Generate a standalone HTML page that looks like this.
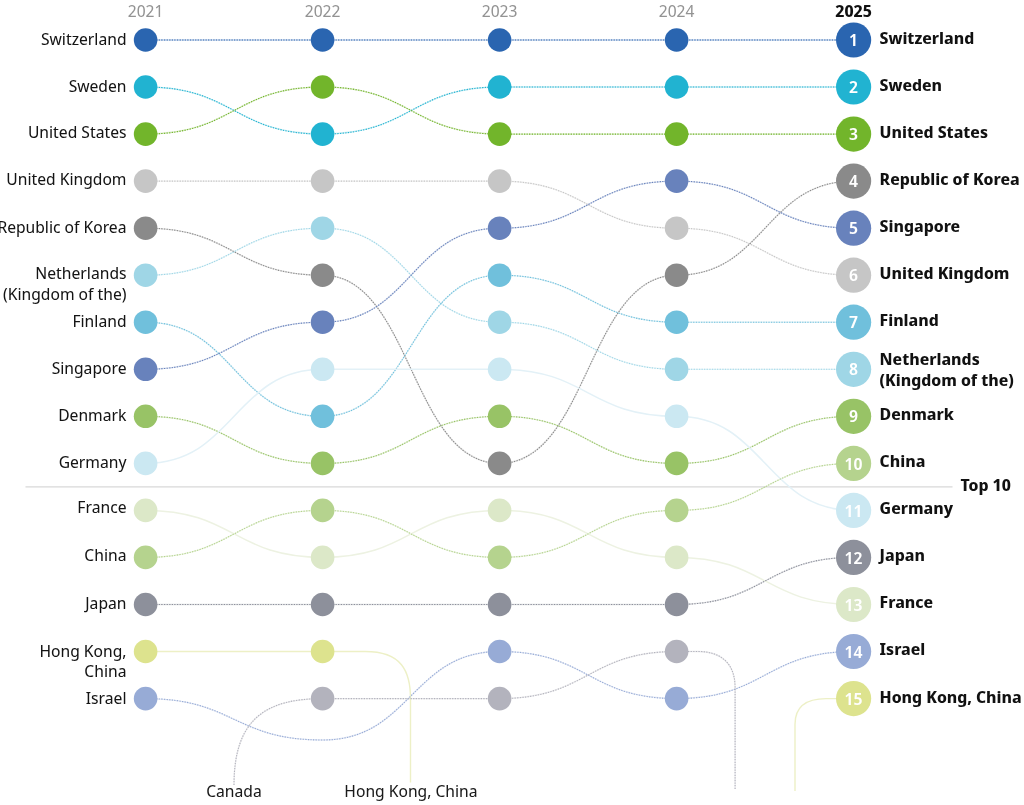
<!DOCTYPE html>
<html><head><meta charset="utf-8"><title>Ranking 2021-2025</title>
<style>html,body{margin:0;padding:0;background:#fff;}body{width:1024px;height:805px;overflow:hidden;}svg{display:block;}</style>
</head><body>
<svg width="1024" height="805" viewBox="0 0 1024 805">
<line x1="25.5" y1="486.8" x2="952.5" y2="486.8" stroke="#d8d8d8" stroke-width="1.2"/>
<g fill="none" stroke-width="1.3" stroke-opacity="0.25">
<path d="M145.6,40.0 C234.1,40.0 234.1,40.0 322.6,40.0 C411.1,40.0 411.1,40.0 499.6,40.0 C588.1,40.0 588.1,40.0 676.6,40.0 C765.1,40.0 765.1,40.0 853.6,40.0" stroke="#2a65b0"/>
<path d="M145.6,87.0 C234.1,87.0 234.1,134.1 322.6,134.1 C411.1,134.1 411.1,87.0 499.6,87.0 C588.1,87.0 588.1,87.0 676.6,87.0 C765.1,87.0 765.1,87.0 853.6,87.0" stroke="#21b3d1"/>
<path d="M145.6,134.1 C234.1,134.1 234.1,87.0 322.6,87.0 C411.1,87.0 411.1,134.1 499.6,134.1 C588.1,134.1 588.1,134.1 676.6,134.1 C765.1,134.1 765.1,134.1 853.6,134.1" stroke="#72b52b"/>
<path d="M145.6,181.1 C234.1,181.1 234.1,181.1 322.6,181.1 C411.1,181.1 411.1,181.1 499.6,181.1 C588.1,181.1 588.1,228.2 676.6,228.2 C765.1,228.2 765.1,275.2 853.6,275.2" stroke="#c6c6c6"/>
<path d="M145.6,228.2 C234.1,228.2 234.1,275.2 322.6,275.2 C411.1,275.2 411.1,463.4 499.6,463.4 C588.1,463.4 588.1,275.2 676.6,275.2 C765.1,275.2 765.1,181.1 853.6,181.1" stroke="#8a8a8a"/>
<path d="M145.6,275.2 C234.1,275.2 234.1,228.2 322.6,228.2 C411.1,228.2 411.1,322.2 499.6,322.2 C588.1,322.2 588.1,369.3 676.6,369.3 C765.1,369.3 765.1,369.3 853.6,369.3" stroke="#9fd6e6"/>
<path d="M145.6,322.2 C234.1,322.2 234.1,416.3 322.6,416.3 C411.1,416.3 411.1,275.2 499.6,275.2 C588.1,275.2 588.1,322.2 676.6,322.2 C765.1,322.2 765.1,322.2 853.6,322.2" stroke="#70c0dc"/>
<path d="M145.6,369.3 C234.1,369.3 234.1,322.2 322.6,322.2 C411.1,322.2 411.1,228.2 499.6,228.2 C588.1,228.2 588.1,181.1 676.6,181.1 C765.1,181.1 765.1,228.2 853.6,228.2" stroke="#6882bc"/>
<path d="M145.6,416.3 C234.1,416.3 234.1,463.4 322.6,463.4 C411.1,463.4 411.1,416.3 499.6,416.3 C588.1,416.3 588.1,463.4 676.6,463.4 C765.1,463.4 765.1,416.3 853.6,416.3" stroke="#98c366"/>
<path d="M145.6,557.4 C234.1,557.4 234.1,510.4 322.6,510.4 C411.1,510.4 411.1,557.4 499.6,557.4 C588.1,557.4 588.1,510.4 676.6,510.4 C765.1,510.4 765.1,463.4 853.6,463.4" stroke="#b5d38e"/>
<path d="M145.6,604.5 C234.1,604.5 234.1,604.5 322.6,604.5 C411.1,604.5 411.1,604.5 499.6,604.5 C588.1,604.5 588.1,604.5 676.6,604.5 C765.1,604.5 765.1,557.4 853.6,557.4" stroke="#8d909b"/>
<path d="M145.6,698.6 C234.1,698.6 234.1,740.0 322.6,740.0 C411.1,740.0 411.1,651.5 499.6,651.5 C588.1,651.5 588.1,698.6 676.6,698.6 C765.1,698.6 765.1,651.5 853.6,651.5" stroke="#97abd6"/>
<path d="M234,785 C234,718.7 266.2,698.6 322.6,698.6 H499.6 C588.1,698.6 588.1,651.5 676.6,651.5 H698.3 C720.6,651.5 735.1,663.1 735.1,687.5 V789" stroke="#b3b3bd"/>
</g>
<g fill="none" stroke-width="1.1" stroke-dasharray="1.3 1.3">
<path d="M145.6,40.0 C234.1,40.0 234.1,40.0 322.6,40.0 C411.1,40.0 411.1,40.0 499.6,40.0 C588.1,40.0 588.1,40.0 676.6,40.0 C765.1,40.0 765.1,40.0 853.6,40.0" stroke="#2a65b0"/>
<path d="M145.6,87.0 C234.1,87.0 234.1,134.1 322.6,134.1 C411.1,134.1 411.1,87.0 499.6,87.0 C588.1,87.0 588.1,87.0 676.6,87.0 C765.1,87.0 765.1,87.0 853.6,87.0" stroke="#21b3d1"/>
<path d="M145.6,134.1 C234.1,134.1 234.1,87.0 322.6,87.0 C411.1,87.0 411.1,134.1 499.6,134.1 C588.1,134.1 588.1,134.1 676.6,134.1 C765.1,134.1 765.1,134.1 853.6,134.1" stroke="#72b52b"/>
<path d="M145.6,181.1 C234.1,181.1 234.1,181.1 322.6,181.1 C411.1,181.1 411.1,181.1 499.6,181.1 C588.1,181.1 588.1,228.2 676.6,228.2 C765.1,228.2 765.1,275.2 853.6,275.2" stroke="#c6c6c6"/>
<path d="M145.6,228.2 C234.1,228.2 234.1,275.2 322.6,275.2 C411.1,275.2 411.1,463.4 499.6,463.4 C588.1,463.4 588.1,275.2 676.6,275.2 C765.1,275.2 765.1,181.1 853.6,181.1" stroke="#8a8a8a"/>
<path d="M145.6,275.2 C234.1,275.2 234.1,228.2 322.6,228.2 C411.1,228.2 411.1,322.2 499.6,322.2 C588.1,322.2 588.1,369.3 676.6,369.3 C765.1,369.3 765.1,369.3 853.6,369.3" stroke="#9fd6e6"/>
<path d="M145.6,322.2 C234.1,322.2 234.1,416.3 322.6,416.3 C411.1,416.3 411.1,275.2 499.6,275.2 C588.1,275.2 588.1,322.2 676.6,322.2 C765.1,322.2 765.1,322.2 853.6,322.2" stroke="#70c0dc"/>
<path d="M145.6,369.3 C234.1,369.3 234.1,322.2 322.6,322.2 C411.1,322.2 411.1,228.2 499.6,228.2 C588.1,228.2 588.1,181.1 676.6,181.1 C765.1,181.1 765.1,228.2 853.6,228.2" stroke="#6882bc"/>
<path d="M145.6,416.3 C234.1,416.3 234.1,463.4 322.6,463.4 C411.1,463.4 411.1,416.3 499.6,416.3 C588.1,416.3 588.1,463.4 676.6,463.4 C765.1,463.4 765.1,416.3 853.6,416.3" stroke="#98c366"/>
<path d="M145.6,463.4 C234.1,463.4 234.1,369.3 322.6,369.3 C411.1,369.3 411.1,369.3 499.6,369.3 C588.1,369.3 588.1,416.3 676.6,416.3 C765.1,416.3 765.1,510.4 853.6,510.4" stroke="#e3f1f7" stroke-dasharray="none" stroke-width="1.5"/>
<path d="M145.6,510.4 C234.1,510.4 234.1,557.4 322.6,557.4 C411.1,557.4 411.1,510.4 499.6,510.4 C588.1,510.4 588.1,557.4 676.6,557.4 C765.1,557.4 765.1,604.5 853.6,604.5" stroke="#edf2e2" stroke-dasharray="none" stroke-width="1.5"/>
<path d="M145.6,557.4 C234.1,557.4 234.1,510.4 322.6,510.4 C411.1,510.4 411.1,557.4 499.6,557.4 C588.1,557.4 588.1,510.4 676.6,510.4 C765.1,510.4 765.1,463.4 853.6,463.4" stroke="#b5d38e"/>
<path d="M145.6,604.5 C234.1,604.5 234.1,604.5 322.6,604.5 C411.1,604.5 411.1,604.5 499.6,604.5 C588.1,604.5 588.1,604.5 676.6,604.5 C765.1,604.5 765.1,557.4 853.6,557.4" stroke="#8d909b"/>
<path d="M145.6,651.5 H365.2 C401.5,651.5 410.5,670.9 410.5,698.9 V782.5" stroke="#edf0c6" stroke-dasharray="none" stroke-width="1.4"/>
<path d="M795,791 V724.3 C795,705.2 808.3,698.6 826.2,698.6 H853.6" stroke="#edf0c6" stroke-dasharray="none" stroke-width="1.4"/>
<path d="M145.6,698.6 C234.1,698.6 234.1,740.0 322.6,740.0 C411.1,740.0 411.1,651.5 499.6,651.5 C588.1,651.5 588.1,698.6 676.6,698.6 C765.1,698.6 765.1,651.5 853.6,651.5" stroke="#97abd6"/>
<path d="M234,785 C234,718.7 266.2,698.6 322.6,698.6 H499.6 C588.1,698.6 588.1,651.5 676.6,651.5 H698.3 C720.6,651.5 735.1,663.1 735.1,687.5 V789" stroke="#b3b3bd"/>
</g>
<g>
<circle cx="145.6" cy="40.0" r="11.8" fill="#2a65b0"/>
<circle cx="322.6" cy="40.0" r="11.8" fill="#2a65b0"/>
<circle cx="499.6" cy="40.0" r="11.8" fill="#2a65b0"/>
<circle cx="676.6" cy="40.0" r="11.8" fill="#2a65b0"/>
<circle cx="853.6" cy="40.0" r="17.6" fill="#2a65b0"/>
<circle cx="145.6" cy="87.0" r="11.8" fill="#21b3d1"/>
<circle cx="322.6" cy="134.1" r="11.8" fill="#21b3d1"/>
<circle cx="499.6" cy="87.0" r="11.8" fill="#21b3d1"/>
<circle cx="676.6" cy="87.0" r="11.8" fill="#21b3d1"/>
<circle cx="853.6" cy="87.0" r="17.6" fill="#21b3d1"/>
<circle cx="145.6" cy="134.1" r="11.8" fill="#72b52b"/>
<circle cx="322.6" cy="87.0" r="11.8" fill="#72b52b"/>
<circle cx="499.6" cy="134.1" r="11.8" fill="#72b52b"/>
<circle cx="676.6" cy="134.1" r="11.8" fill="#72b52b"/>
<circle cx="853.6" cy="134.1" r="17.6" fill="#72b52b"/>
<circle cx="145.6" cy="181.1" r="11.8" fill="#c6c6c6"/>
<circle cx="322.6" cy="181.1" r="11.8" fill="#c6c6c6"/>
<circle cx="499.6" cy="181.1" r="11.8" fill="#c6c6c6"/>
<circle cx="676.6" cy="228.2" r="11.8" fill="#c6c6c6"/>
<circle cx="853.6" cy="275.2" r="17.6" fill="#c6c6c6"/>
<circle cx="145.6" cy="228.2" r="11.8" fill="#8a8a8a"/>
<circle cx="322.6" cy="275.2" r="11.8" fill="#8a8a8a"/>
<circle cx="499.6" cy="463.4" r="11.8" fill="#8a8a8a"/>
<circle cx="676.6" cy="275.2" r="11.8" fill="#8a8a8a"/>
<circle cx="853.6" cy="181.1" r="17.6" fill="#8a8a8a"/>
<circle cx="145.6" cy="275.2" r="11.8" fill="#9fd6e6"/>
<circle cx="322.6" cy="228.2" r="11.8" fill="#9fd6e6"/>
<circle cx="499.6" cy="322.2" r="11.8" fill="#9fd6e6"/>
<circle cx="676.6" cy="369.3" r="11.8" fill="#9fd6e6"/>
<circle cx="853.6" cy="369.3" r="17.6" fill="#9fd6e6"/>
<circle cx="145.6" cy="322.2" r="11.8" fill="#70c0dc"/>
<circle cx="322.6" cy="416.3" r="11.8" fill="#70c0dc"/>
<circle cx="499.6" cy="275.2" r="11.8" fill="#70c0dc"/>
<circle cx="676.6" cy="322.2" r="11.8" fill="#70c0dc"/>
<circle cx="853.6" cy="322.2" r="17.6" fill="#70c0dc"/>
<circle cx="145.6" cy="369.3" r="11.8" fill="#6882bc"/>
<circle cx="322.6" cy="322.2" r="11.8" fill="#6882bc"/>
<circle cx="499.6" cy="228.2" r="11.8" fill="#6882bc"/>
<circle cx="676.6" cy="181.1" r="11.8" fill="#6882bc"/>
<circle cx="853.6" cy="228.2" r="17.6" fill="#6882bc"/>
<circle cx="145.6" cy="416.3" r="11.8" fill="#98c366"/>
<circle cx="322.6" cy="463.4" r="11.8" fill="#98c366"/>
<circle cx="499.6" cy="416.3" r="11.8" fill="#98c366"/>
<circle cx="676.6" cy="463.4" r="11.8" fill="#98c366"/>
<circle cx="853.6" cy="416.3" r="17.6" fill="#98c366"/>
<circle cx="145.6" cy="463.4" r="11.8" fill="#cbe8f2"/>
<circle cx="322.6" cy="369.3" r="11.8" fill="#cbe8f2"/>
<circle cx="499.6" cy="369.3" r="11.8" fill="#cbe8f2"/>
<circle cx="676.6" cy="416.3" r="11.8" fill="#cbe8f2"/>
<circle cx="853.6" cy="510.4" r="17.6" fill="#cbe8f2"/>
<circle cx="145.6" cy="510.4" r="11.8" fill="#dce8c8"/>
<circle cx="322.6" cy="557.4" r="11.8" fill="#dce8c8"/>
<circle cx="499.6" cy="510.4" r="11.8" fill="#dce8c8"/>
<circle cx="676.6" cy="557.4" r="11.8" fill="#dce8c8"/>
<circle cx="853.6" cy="604.5" r="17.6" fill="#dce8c8"/>
<circle cx="145.6" cy="557.4" r="11.8" fill="#b5d38e"/>
<circle cx="322.6" cy="510.4" r="11.8" fill="#b5d38e"/>
<circle cx="499.6" cy="557.4" r="11.8" fill="#b5d38e"/>
<circle cx="676.6" cy="510.4" r="11.8" fill="#b5d38e"/>
<circle cx="853.6" cy="463.4" r="17.6" fill="#b5d38e"/>
<circle cx="145.6" cy="604.5" r="11.8" fill="#8d909b"/>
<circle cx="322.6" cy="604.5" r="11.8" fill="#8d909b"/>
<circle cx="499.6" cy="604.5" r="11.8" fill="#8d909b"/>
<circle cx="676.6" cy="604.5" r="11.8" fill="#8d909b"/>
<circle cx="853.6" cy="557.4" r="17.6" fill="#8d909b"/>
<circle cx="145.6" cy="651.5" r="11.8" fill="#dde38e"/>
<circle cx="322.6" cy="651.5" r="11.8" fill="#dde38e"/>
<circle cx="853.6" cy="698.6" r="17.6" fill="#dde38e"/>
<circle cx="145.6" cy="698.6" r="11.8" fill="#97abd6"/>
<circle cx="499.6" cy="651.5" r="11.8" fill="#97abd6"/>
<circle cx="676.6" cy="698.6" r="11.8" fill="#97abd6"/>
<circle cx="853.6" cy="651.5" r="17.6" fill="#97abd6"/>
<circle cx="322.6" cy="698.6" r="11.8" fill="#b3b3bd"/>
<circle cx="499.6" cy="698.6" r="11.8" fill="#b3b3bd"/>
<circle cx="676.6" cy="651.5" r="11.8" fill="#b3b3bd"/>
</g>
<g font-family="'Noto Sans Display', 'Noto Sans', 'Liberation Sans', sans-serif" font-size="16.6" font-weight="600" fill="#fff" text-anchor="middle">
<text x="853.6" y="46.1">1</text>
<text x="853.6" y="93.1">2</text>
<text x="853.6" y="140.2">3</text>
<text x="853.6" y="281.3">6</text>
<text x="853.6" y="187.2">4</text>
<text x="853.6" y="375.4">8</text>
<text x="853.6" y="328.3">7</text>
<text x="853.6" y="234.3">5</text>
<text x="853.6" y="422.4">9</text>
<text x="853.6" y="516.5">11</text>
<text x="853.6" y="610.6">13</text>
<text x="853.6" y="469.5">10</text>
<text x="853.6" y="563.5">12</text>
<text x="853.6" y="704.7">15</text>
<text x="853.6" y="657.6">14</text>
</g>
<g font-family="'Noto Sans Display', 'Noto Sans', 'Liberation Sans', sans-serif" font-size="16.6" fill="#939393" text-anchor="middle">
<text x="145.6" y="17.3">2021</text>
<text x="322.6" y="17.3">2022</text>
<text x="499.6" y="17.3">2023</text>
<text x="676.6" y="17.3">2024</text>
</g>
<text x="853.6" y="17.3" font-family="'Noto Sans Display', 'Noto Sans', 'Liberation Sans', sans-serif" font-size="16.8" font-weight="700" fill="#111" text-anchor="middle">2025</text>
<g font-family="'Noto Sans Display', 'Noto Sans', 'Liberation Sans', sans-serif" font-size="16.6" fill="#141414" text-anchor="end">
<text x="126.5" y="44.6">Switzerland</text>
<text x="126.5" y="91.8">Sweden</text>
<text x="126.5" y="137.9">United States</text>
<text x="126.5" y="185.1">United Kingdom</text>
<text x="126.5" y="232.5">Republic of Korea</text>
<text x="126.5" y="279.2">Netherlands</text>
<text x="126.5" y="299.5">(Kingdom of the)</text>
<text x="126.5" y="327.1">Finland</text>
<text x="126.5" y="373.6">Singapore</text>
<text x="126.5" y="420.9">Denmark</text>
<text x="126.5" y="467.7">Germany</text>
<text x="126.5" y="513.4">France</text>
<text x="126.5" y="560.9">China</text>
<text x="126.5" y="609.0">Japan</text>
<text x="126.5" y="656.7">Hong Kong,</text>
<text x="126.5" y="677.0">China</text>
<text x="126.5" y="703.6">Israel</text>
</g>
<g font-family="'Noto Sans Display', 'Noto Sans', 'Liberation Sans', sans-serif" font-size="16.8" font-weight="700" fill="#111">
<text x="879.6" y="43.9">Switzerland</text>
<text x="879.6" y="90.9">Sweden</text>
<text x="879.6" y="138.0">United States</text>
<text x="879.6" y="185.0">Republic of Korea</text>
<text x="879.6" y="232.1">Singapore</text>
<text x="879.6" y="279.1">United Kingdom</text>
<text x="879.6" y="326.1">Finland</text>
<text x="879.6" y="365.2">Netherlands</text>
<text x="879.6" y="385.5">(Kingdom of the)</text>
<text x="879.6" y="420.2">Denmark</text>
<text x="879.6" y="467.3">China</text>
<text x="879.6" y="514.3">Germany</text>
<text x="879.6" y="561.3">Japan</text>
<text x="879.6" y="608.4">France</text>
<text x="879.6" y="655.4">Israel</text>
<text x="879.6" y="702.5">Hong Kong, China</text>
<text x="960.4" y="491" >Top 10</text>
</g>
<g font-family="'Noto Sans Display', 'Noto Sans', 'Liberation Sans', sans-serif" font-size="16.6" fill="#1a1a1a" text-anchor="middle">
<text x="234" y="797">Canada</text>
<text x="411" y="797">Hong Kong, China</text>
</g>
</svg>
</body></html>
